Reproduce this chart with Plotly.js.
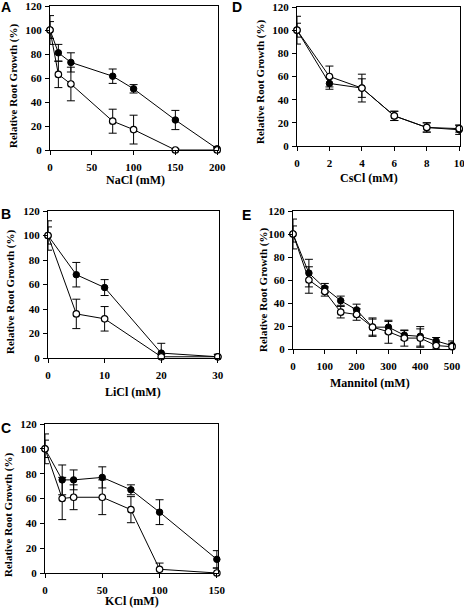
<!DOCTYPE html>
<html>
<head>
<meta charset="utf-8">
<script src="https://cdn.plot.ly/plotly-3.0.1.min.js"></script>
<style>html,body{margin:0;padding:0;background:#fff;}#chart{width:464px;height:608px;}</style>
</head>
<body>
<div id="chart"></div>
<script>
// ---- Data ----
const naclX = [0, 10, 25, 75, 100, 150, 200];
const naclFilled = [100, 81, 73, 61.5, 51, 25, 1];
const naclFilledErr = [12, 7, 8, 6, 3.5, 8, 2];
const naclOpen = [100, 63, 55, 24, 17, 0, 0];
const naclOpenErr = [7, 11, 14, 10, 12, 1, 2];

const liclX = [0, 5, 10, 20, 30];
const liclFilled = [100, 68, 57.5, 4, 1];
const liclFilledErr = [12, 10, 6.5, 8, 2];
const liclOpen = [100, 36, 32, 1, 1];
const liclOpenErr = [7, 12, 10, 2, 2];

const kclX = [0, 15, 25, 50, 75, 100, 150];
const kclFilled = [100, 75, 75, 77, 67, 49, 11];
const kclFilledErr = [12, 12, 8, 8.5, 4, 10, 7];
const kclOpen = [100, 60, 61, 61, 51, 3, 0];
const kclOpenErr = [7, 17, 10, 14, 10.5, 5, 4];

const csclX = [0, 2, 4, 6, 8, 10];
const csclFilled = [100, 54, 50, 26, 16, 14];
const csclFilledErr = [12, 5, 12, 4, 4, 4];
const csclOpen = [100, 60, 50, 26, 16, 15];
const csclOpenErr = [6, 9, 8, 4, 4, 3];

const manX = [0, 50, 100, 150, 200, 250, 300, 350, 400, 450, 500];
const manFilled = [100, 66, 53, 42, 34, 19, 19, 12, 11, 7, 3];
const manFilledErr = [13, 12, 4, 4, 5, 7, 5, 4, 8.5, 3, 4];
const manOpen = [100, 60, 50, 32, 30, 19, 15, 9.5, 9.5, 3, 2];
const manOpenErr = [7, 11.5, 4, 5, 5, 8, 10, 7, 8, 3, 3];

const yTickVals = [0, 20, 40, 60, 80, 100, 120];
const naclTicks = [0, 50, 100, 150, 200];
const liclTicks = [0, 10, 20, 30];
const kclTicks = [0, 50, 100, 150];
const csclTicks = [0, 2, 4, 6, 8, 10];
const manTicks = [0, 100, 200, 300, 400, 500];

const panelLetters = ['A', 'B', 'C', 'D', 'E'];
const xTitles = ['NaCl (mM)', 'LiCl (mM)', 'KCl (mM)', 'CsCl (mM)', 'Mannitol (mM)'];
const yTitle = 'Relative Root Growth (%)';

// ---- Drawing ----
const W = 464, H = 608;
const serif = 'Liberation Serif, Times New Roman, serif';
const tickFont = {family: serif, size: 11, color: '#000', weight: 700};

function pair(xs, filled, filledErr, open, openErr, ax) {
  const common = {type: 'scatter', mode: 'lines+markers', showlegend: false,
    xaxis: 'x' + ax, yaxis: 'y' + ax, line: {color: '#000', width: 1}, cliponaxis: false};
  return [
    Object.assign({}, common, {x: xs, y: filled,
      marker: {symbol: 'circle', size: 6.5, color: '#000', line: {color: '#000', width: 1}},
      error_y: {type: 'data', array: filledErr, visible: true, color: '#000', thickness: 1, width: 4}}),
    Object.assign({}, common, {x: xs, y: open,
      marker: {symbol: 'circle', size: 6.5, color: '#fff', line: {color: '#000', width: 1.2}},
      error_y: {type: 'data', array: openErr, visible: true, color: '#000', thickness: 1, width: 4}})
  ];
}

const data = [].concat(
  pair(naclX, naclFilled, naclFilledErr, naclOpen, naclOpenErr, ''),
  pair(liclX, liclFilled, liclFilledErr, liclOpen, liclOpenErr, '2'),
  pair(kclX, kclFilled, kclFilledErr, kclOpen, kclOpenErr, '3'),
  pair(csclX, csclFilled, csclFilledErr, csclOpen, csclOpenErr, '4'),
  pair(manX, manFilled, manFilledErr, manOpen, manOpenErr, '5')
);

// pixel boxes [left, right, top, bottom], x ranges, tick values
const boxes = [
  [50, 218, 6, 150],
  [48, 219, 211, 358],
  [45, 218, 424, 573],
  [297, 460, 7, 146],
  [293, 453, 211, 349]
];
const xRanges = [[0, 201], [0, 30.2], [0, 151], [0, 10.05], [0, 503]];
const xTickSets = [naclTicks, liclTicks, kclTicks, csclTicks, manTicks];

function bold(v) { return '<b>' + v + '</b>'; }

function axisBase() {
  return {showline: true, linecolor: '#000', linewidth: 1, mirror: true,
    ticks: 'outside', ticklen: 4, tickwidth: 1, tickcolor: '#000',
    showgrid: false, zeroline: false, tickfont: tickFont, fixedrange: true,
    ticklabeloverflow: 'allow', tickmode: 'array'};
}

const layout = {
  width: W, height: H, margin: {l: 0, r: 0, t: 0, b: 0},
  paper_bgcolor: '#fff', plot_bgcolor: '#fff', showlegend: false,
  font: {family: serif, size: 11, color: '#000', weight: 700},
  annotations: []
};

boxes.forEach((b, i) => {
  const s = i === 0 ? '' : String(i + 1);
  const xa = axisBase();
  xa.domain = [b[0] / W, b[1] / W];
  xa.range = xRanges[i];
  xa.tickvals = xTickSets[i];
  xa.ticktext = xTickSets[i].map(bold);
  xa.anchor = 'y' + s;
  xa.ticklabelstandoff = 3;
  const ya = axisBase();
  ya.domain = [1 - b[3] / H, 1 - b[2] / H];
  ya.range = [0, 120];
  ya.tickvals = yTickVals;
  ya.ticktext = yTickVals.map(bold);
  ya.anchor = 'x' + s;
  ya.ticklabelstandoff = 1;
  layout['xaxis' + s] = xa;
  layout['yaxis' + s] = ya;
});

// text placement (pixel centres)
const letterPos = [[6, 7], [6, 214], [6, 428], [237, 7], [246, 215]];
const yTitlePos = [[13, 86], [10, 292], [8, 515], [260, 82], [263, 290]];
const xTitlePos = [[135, 180], [133, 392], [132, 601], [369, 178], [370, 383]];

function ann(text, px, py, font, angle) {
  return {text: '<b>' + text + '</b>', xref: 'paper', yref: 'paper', x: px / W, y: 1 - py / H,
    xanchor: 'center', yanchor: 'middle', showarrow: false, font: font, textangle: angle || 0};
}

panelLetters.forEach((L, i) => {
  layout.annotations.push(ann(L, letterPos[i][0], letterPos[i][1],
    {family: 'Liberation Sans, Arial, sans-serif', size: 14, color: '#000'}));
  layout.annotations.push(ann(yTitle, yTitlePos[i][0], yTitlePos[i][1],
    {family: serif, size: 11, color: '#000'}, -90));
  layout.annotations.push(ann(xTitles[i], xTitlePos[i][0], xTitlePos[i][1],
    {family: serif, size: 12, color: '#000'}));
});

Plotly.newPlot('chart', data, layout, {staticPlot: true, displayModeBar: false});
</script>
</body>
</html>
